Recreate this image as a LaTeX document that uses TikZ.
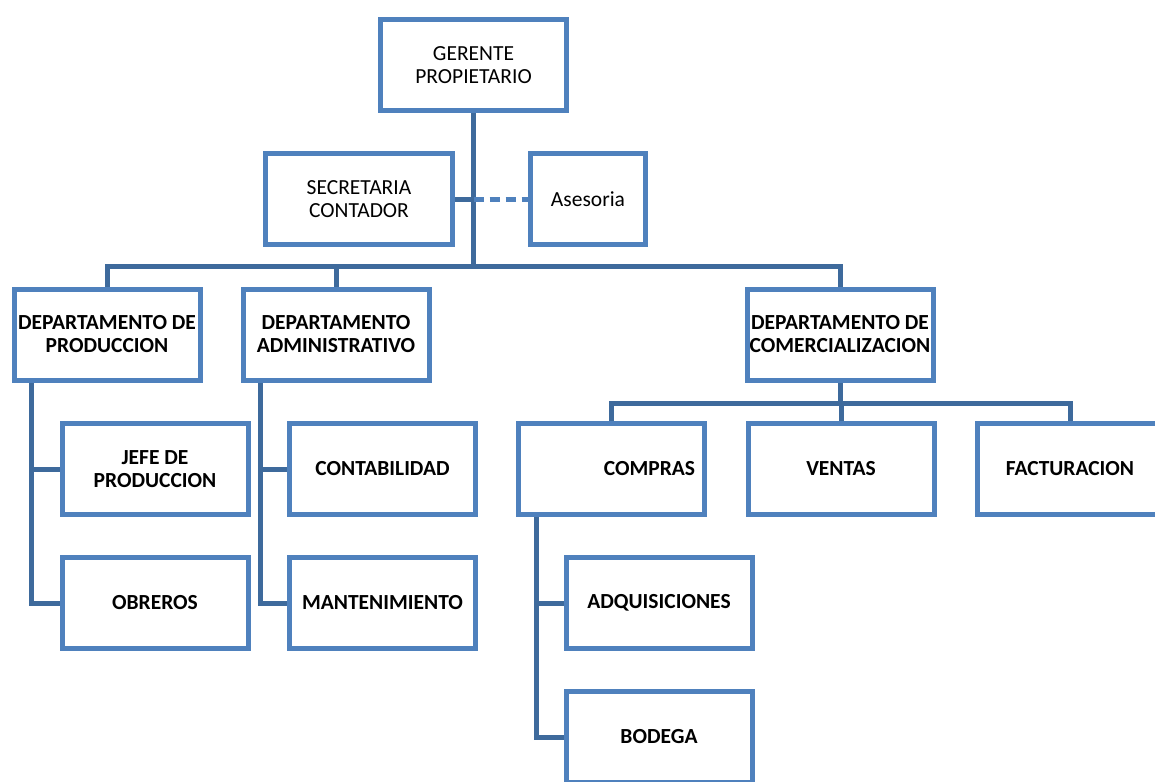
\documentclass[tikz,border=0pt]{standalone}
\usepackage{fontspec}
\setmainfont{Carlito}
\definecolor{boxblue}{HTML}{4F81BD}
\definecolor{linkblue}{HTML}{3E6A9C}
\begin{document}
\begin{tikzpicture}[x=1pt,y=-1pt,
  unit/.style={draw=boxblue, line width=5pt, fill=white, line join=miter,
    minimum width=186pt, minimum height=91pt, inner sep=2pt, align=center,
    font=\fontsize{21.5}{23}\selectfont},
  unitb/.style={unit, font=\fontsize{21.5}{23}\selectfont\bfseries},
  link/.style={draw=linkblue, line width=5pt, line join=miter},
  advice/.style={draw=boxblue, line width=5pt, dash pattern=on 10pt off 6pt}]
\path[use as bounding box, clip] (0,0) rectangle (1155,781);

% connectors
\coordinate (bus) at (0,266);
\coordinate (subbus) at (0,403);
\coordinate (staff) at (0,199);

% top level
\node[unit] (gerente) at (473.5,65) {GERENTE\\PROPIETARIO};
\node[unit, minimum width=187pt] (secretaria) at (359,199) {SECRETARIA\\CONTADOR};
\node[unit, minimum width=115pt] (asesoria) at (588,199) {Asesoria};

% departments
\node[unitb] (dprod) at (107,334.5) {DEPARTAMENTO DE\\PRODUCCION};
\node[unitb] (dadm) at (336,334.5) {DEPARTAMENTO\\ADMINISTRATIVO};
\node[unitb] (dcom) at (840,334.5) {DEPARTAMENTO DE\\COMERCIALIZACION};

% production
\node[unitb] (jefe) at (155,469) {JEFE DE\\PRODUCCION};
\node[unitb] (obreros) at (155,603) {OBREROS};

% administration
\node[unitb] (contab) at (382.5,469) {CONTABILIDAD};
\node[unitb] (mant) at (382.5,603) {MANTENIMIENTO};

% commercial
\node[unitb] (compras) at (611.5,468.5) {\hspace*{76pt}COMPRAS};
\node[unitb] (ventas) at (841,468.5) {VENTAS};
\node[unitb] (fact) at (1070,468.5) {FACTURACION};
\node[unitb] (adq) at (659,603) {ADQUISICIONES};
\node[unitb] (bodega) at (659,737) {BODEGA};

% lines
\draw[link] (gerente.south) -- (gerente.south |- bus);
\draw[link] (secretaria.east) -- (gerente.south |- staff);
\draw[advice] (gerente.south |- staff) -- (asesoria.west);
\draw[link] (dprod.north) -- (dprod.north |- bus) -- (dcom.north |- bus) -- (dcom.north);
\draw[link] (dadm.north) -- (dadm.north |- bus);

\draw[link] ([xshift=20pt]dprod.south west) |- (obreros.west);
\draw[link] ([xshift=20pt]dprod.south west |- jefe.west) -- (jefe.west);
\draw[link] ([xshift=20pt]dadm.south west) |- (mant.west);
\draw[link] ([xshift=20pt]dadm.south west |- contab.west) -- (contab.west);

\draw[link] (dcom.south) -- (dcom.south |- subbus);
\draw[link] (compras.north) -- (compras.north |- subbus) -- (fact.north |- subbus) -- (fact.north);
\draw[link] (ventas.north) -- (ventas.north |- subbus);
\draw[link] ([xshift=20pt]compras.south west) |- (bodega.west);
\draw[link] ([xshift=20pt]compras.south west |- adq.west) -- (adq.west);

% redraw box borders over the line ends
\foreach \n in {gerente,secretaria,asesoria,dprod,dadm,dcom,jefe,obreros,contab,mant,compras,ventas,fact,adq,bodega}
  \draw[boxblue, line width=5pt, line join=miter] (\n.north west) ++(2.5,2.5) rectangle ([shift={(-2.5,-2.5)}]\n.south east);
\end{tikzpicture}
\end{document}
